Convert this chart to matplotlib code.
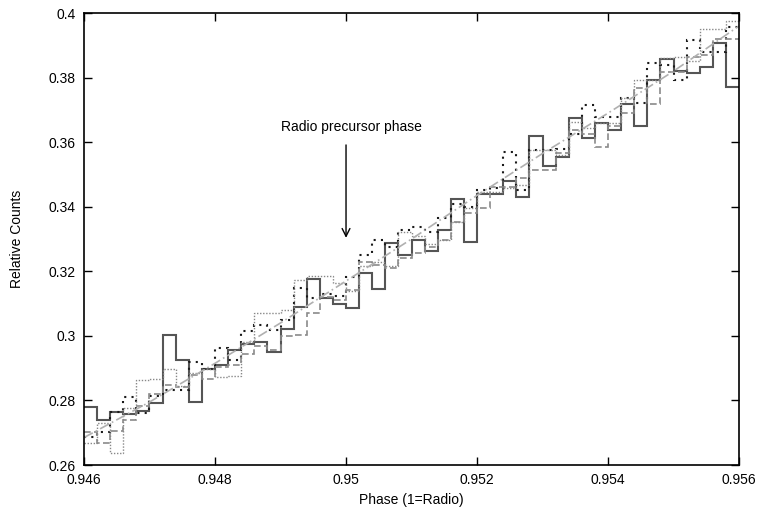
import numpy as np
import matplotlib
matplotlib.use('Agg')
import matplotlib.pyplot as plt

plt.rcParams['font.family'] = ['Liberation Sans', 'DejaVu Sans']

# phase bins 0.946 - 0.956, width 0.0002
phase_lo = 0.946
phase_hi = 0.956
nbins = 50

# solid dark grey
counts_a = [0.2781, 0.2739, 0.2765, 0.2757, 0.2768, 0.2791, 0.3003, 0.2925, 0.2794, 0.2896,
            0.2910, 0.2955, 0.2975, 0.2980, 0.2951, 0.3020, 0.3088, 0.3175, 0.3118, 0.3100,
            0.3087, 0.3194, 0.3144, 0.3287, 0.3250, 0.3297, 0.3263, 0.3328, 0.3424, 0.3292,
            0.3439, 0.3440, 0.3480, 0.3431, 0.3620, 0.3525, 0.3555, 0.3674, 0.3612, 0.3658,
            0.3637, 0.3718, 0.3650, 0.3794, 0.3857, 0.3821, 0.3813, 0.3832, 0.3906, 0.3770]
# coarse black dots
counts_b = [0.2688, 0.2703, 0.2765, 0.2810, 0.2762, 0.2815, 0.2832, 0.2832, 0.2920, 0.2896,
            0.2963, 0.2925, 0.3015, 0.3035, 0.3018, 0.3050, 0.3147, 0.3116, 0.3130, 0.3125,
            0.3183, 0.3250, 0.3297, 0.3276, 0.3328, 0.3338, 0.3323, 0.3364, 0.3410, 0.3400,
            0.3452, 0.3457, 0.3570, 0.3452, 0.3576, 0.3576, 0.3579, 0.3625, 0.3715, 0.3679,
            0.3679, 0.3738, 0.3720, 0.3844, 0.3840, 0.3792, 0.3916, 0.3880, 0.3880, 0.3957]
# fine grey dots
counts_c = [0.2667, 0.2729, 0.2638, 0.2776, 0.2863, 0.2866, 0.2896, 0.2845, 0.2885, 0.2896,
            0.2873, 0.2875, 0.2980, 0.3070, 0.3070, 0.3080, 0.3173, 0.3185, 0.3185, 0.3165,
            0.3138, 0.3215, 0.3230, 0.3215, 0.3323, 0.3310, 0.3285, 0.3297, 0.3353, 0.3395,
            0.3446, 0.3446, 0.3457, 0.3467, 0.3576, 0.3576, 0.3560, 0.3663, 0.3643, 0.3659,
            0.3659, 0.3736, 0.3794, 0.3794, 0.3860, 0.3865, 0.3850, 0.3949, 0.3949, 0.3976]
# grey dashes
counts_d = [0.2703, 0.2667, 0.2706, 0.2739, 0.2783, 0.2820, 0.2848, 0.2843, 0.2879, 0.2866,
            0.2903, 0.2910, 0.2945, 0.2970, 0.2955, 0.3000, 0.3003, 0.3070, 0.3121, 0.3110,
            0.3142, 0.3230, 0.3220, 0.3209, 0.3240, 0.3256, 0.3276, 0.3297, 0.3353, 0.3380,
            0.3395, 0.3462, 0.3462, 0.3488, 0.3514, 0.3514, 0.3565, 0.3637, 0.3625, 0.3584,
            0.3650, 0.3689, 0.3767, 0.3718, 0.3818, 0.3818, 0.3865, 0.3870, 0.3921, 0.3920]

# smooth model curve (dash-dot)
model_phase = [0.946, 0.947, 0.948, 0.949, 0.950, 0.951, 0.952, 0.953, 0.954, 0.955, 0.956]
model_counts = [0.2685, 0.2795, 0.2915, 0.3040, 0.3170, 0.3300, 0.3435, 0.3565, 0.3690, 0.3820, 0.3960]

edges = np.linspace(phase_lo, phase_hi, nbins + 1)

fig = plt.figure(figsize=(7.6, 5.11), dpi=100)
ax = fig.add_axes([0.1105, 0.09, 0.862, 0.8845])

ax.stairs(counts_a, edges, baseline=None, color='#555555', lw=1.5)
ax.stairs(counts_b, edges, baseline=None, color='#1a1a1a', lw=1.5, linestyle=(0, (1, 2.5)))
ax.stairs(counts_c, edges, baseline=None, color='#888888', lw=1.0, linestyle=(0, (1, 1.2)))
ax.stairs(counts_d, edges, baseline=None, color='#8a8a8a', lw=1.2, linestyle=(0, (4, 2)))
ax.plot(model_phase, model_counts, color='#b0b0b0', lw=1.2, linestyle=(0, (6, 2, 1, 2)))

ax.annotate('', xy=(0.95, 0.3295), xytext=(0.95, 0.360),
            arrowprops=dict(arrowstyle='->', color='black', lw=1.0, mutation_scale=14))
ax.text(0.949, 0.3648, 'Radio precursor phase', fontsize=10, va='center', ha='left')

ax.set_xlim(phase_lo, phase_hi)
ax.set_ylim(0.26, 0.40)
ax.set_xticks([0.946, 0.948, 0.95, 0.952, 0.954, 0.956])
ax.set_xticklabels(['0.946', '0.948', '0.95', '0.952', '0.954', '0.956'])
ax.set_yticks([0.26, 0.28, 0.30, 0.32, 0.34, 0.36, 0.38, 0.40])
ax.set_yticklabels(['0.26', '0.28', '0.3', '0.32', '0.34', '0.36', '0.38', '0.4'])
ax.tick_params(direction='in', top=True, right=True, length=6, width=1, labelsize=10, pad=6)
for s in ax.spines.values():
    s.set_linewidth(1.2)

ax.set_xlabel('Phase (1=Radio)', fontsize=10, labelpad=4)
ax.set_ylabel('Relative Counts', fontsize=10, labelpad=18)

fig.savefig('out.png', dpi=100)
